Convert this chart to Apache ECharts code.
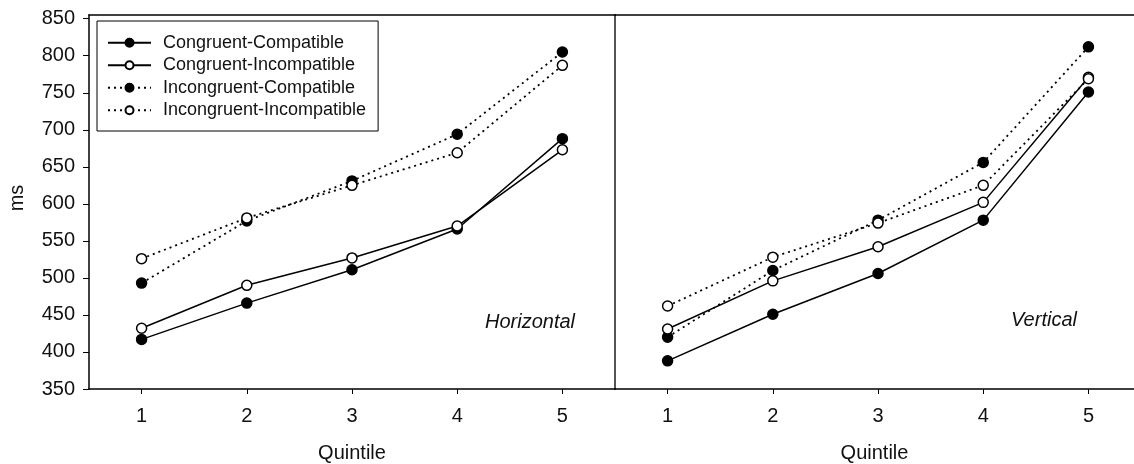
<!DOCTYPE html>
<html lang="en">
  <head>
    <meta charset="UTF-8" />
    <title>Quintile reaction times</title>
    <script src="https://cdn.jsdelivr.net/npm/echarts@6.0.0/dist/echarts.min.js"></script>
    <style>
      html, body { margin: 0; padding: 0; background: #fff; }
      #main { width: 1134px; height: 464px; }
    </style>
  </head>
  <body>
    <div id="main"></div>

    <script>
      const quintiles = [1, 2, 3, 4, 5];
      const yTicks = [350, 400, 450, 500, 550, 600, 650, 700, 750, 800, 850];

      // Horizontal panel
      const horCongComp = [417, 466, 511, 566, 688];
      const horCongIncomp = [432, 490, 527, 570, 673];
      const horIncongComp = [493, 577, 631, 694, 805];
      const horIncongIncomp = [526, 581, 625, 669, 787];

      // Vertical panel
      const verCongComp = [388, 451, 506, 578, 751];
      const verCongIncomp = [431, 496, 542, 602, 771];
      const verIncongComp = [420, 510, 578, 656, 812];
      const verIncongIncomp = [462, 528, 574, 625, 769];

      const font = 'Liberation Sans, Arial, sans-serif';
      const dotted = [2, 4];

      function createSeries(name, panel, values, filled, dashed) {
        return {
          name: name,
          type: 'line',
          xAxisIndex: panel,
          yAxisIndex: panel,
          data: values.map((v, i) => [quintiles[i], v]),
          symbol: 'circle',
          symbolSize: 10,
          z: filled ? 3 : 4,
          lineStyle: {
            color: '#000',
            width: dashed ? 1.8 : 1.5,
            type: dashed ? dotted : 'solid',
          },
          itemStyle: {
            color: filled ? '#000' : '#fff',
            borderColor: '#000',
            borderWidth: 1.5,
          },
          emphasis: { disabled: true },
        };
      }

      // the right panel runs past the page edge, so its max is cut short
      function bottomAxis(grid, max) {
        return {
          type: 'value',
          gridIndex: grid,
          min: 0.5,
          max: max,
          name: 'Quintile',
          nameLocation: 'middle',
          nameGap: 54,
          nameTextStyle: { fontSize: 20, color: '#111', fontFamily: font },
          axisLine: { lineStyle: { color: '#000', width: 1.5 } },
          axisTick: { show: true, length: 5, customValues: quintiles, lineStyle: { color: '#000' } },
          axisLabel: { customValues: quintiles, fontSize: 20, color: '#111', fontFamily: font, margin: 17 },
          splitLine: { show: false },
        };
      }

      function topAxis(grid, max) {
        return {
          type: 'value',
          gridIndex: grid,
          position: 'top',
          min: 0.5,
          max: max,
          axisLine: { show: true, lineStyle: { color: '#000', width: 1.5 } },
          axisTick: { show: false },
          axisLabel: { show: false },
          splitLine: { show: false },
        };
      }

      const names = [
        'Congruent-Compatible',
        'Congruent-Incompatible',
        'Incongruent-Compatible',
        'Incongruent-Incompatible',
      ];

      const options = {
        animation: false,
        backgroundColor: '#fff',
        textStyle: { fontFamily: font },
        grid: [
          { left: 89, top: 15, width: 526, height: 374, outerBoundsMode: 'none' },
          { left: 615, top: 15, width: 519, height: 374, outerBoundsMode: 'none' },
        ],
        legend: {
          orient: 'vertical',
          left: 97,
          top: 21,
          data: names,
          itemWidth: 43,
          itemHeight: 10,
          itemGap: 1,
          padding: [11, 12, 10, 10],
          borderColor: '#000',
          borderWidth: 1,
          backgroundColor: '#fff',
          selectedMode: false,
          textStyle: {
            fontSize: 18,
            color: '#111',
            fontFamily: font,
            lineHeight: 21.5,
            padding: [0, 0, 0, 7],
          },
        },
        xAxis: [bottomAxis(0, 5.5), bottomAxis(1, 5.433), topAxis(0, 5.5), topAxis(1, 5.433)],
        yAxis: [
          {
            type: 'value',
            gridIndex: 0,
            min: 350,
            max: 855,
            name: 'ms',
            nameLocation: 'middle',
            nameGap: 62,
            nameTextStyle: { fontSize: 20, color: '#111', fontFamily: font, padding: [0, 0, 0, 8] },
            axisLine: { show: true, lineStyle: { color: '#000', width: 1.5 } },
            axisTick: { show: true, length: 6, customValues: yTicks, lineStyle: { color: '#000' } },
            axisLabel: { customValues: yTicks, fontSize: 20, color: '#111', fontFamily: font, margin: 14 },
            splitLine: { show: false },
          },
          {
            type: 'value',
            gridIndex: 1,
            min: 350,
            max: 855,
            axisLine: { show: true, lineStyle: { color: '#555', width: 2 } },
            axisTick: { show: false },
            axisLabel: { show: false },
            splitLine: { show: false },
          },
        ],
        graphic: [
          {
            type: 'text',
            left: 485,
            top: 312,
            style: { text: 'Horizontal', font: 'italic 20px ' + font, fill: '#111' },
          },
          {
            type: 'text',
            left: 1011,
            top: 310,
            style: { text: 'Vertical', font: 'italic 20px ' + font, fill: '#111' },
          },
        ],
        series: [
          createSeries(names[0], 0, horCongComp, true, false),
          createSeries(names[1], 0, horCongIncomp, false, false),
          createSeries(names[2], 0, horIncongComp, true, true),
          createSeries(names[3], 0, horIncongIncomp, false, true),
          createSeries(names[0], 1, verCongComp, true, false),
          createSeries(names[1], 1, verCongIncomp, false, false),
          createSeries(names[2], 1, verIncongComp, true, true),
          createSeries(names[3], 1, verIncongIncomp, false, true),
        ],
      };

      var myChart = echarts.init(document.querySelector('#main'));
      myChart.setOption(options);
    </script>
  </body>
</html>
